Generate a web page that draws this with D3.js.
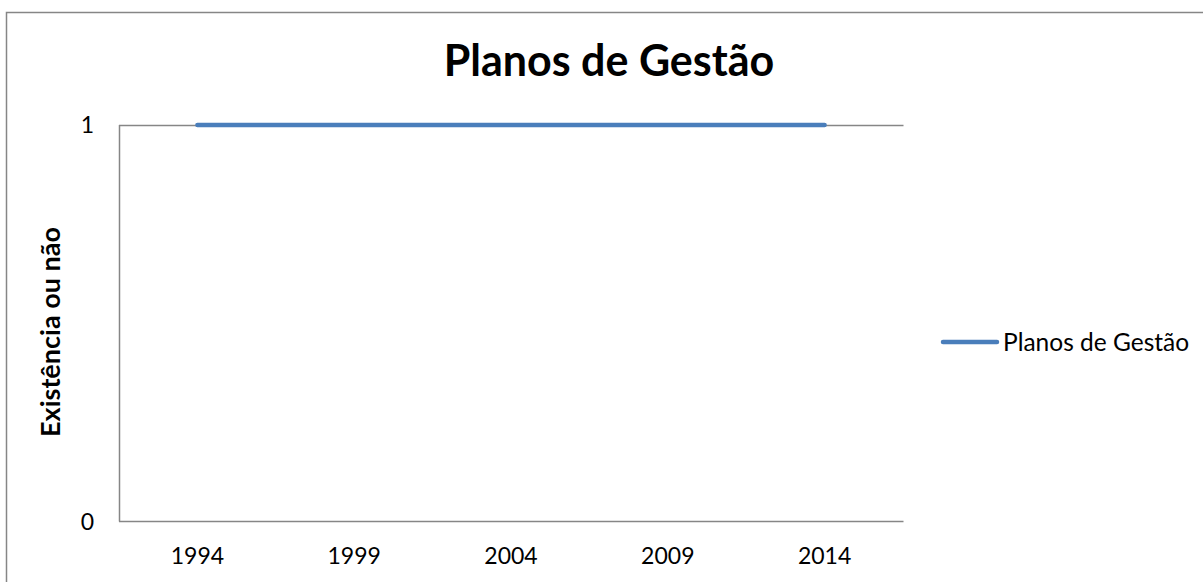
<!DOCTYPE html>
<html>
<head>
<meta charset="utf-8">
<script src="https://cdn.jsdelivr.net/npm/d3@7"></script>
<style>
  body { margin: 0; background: #fff; }
  text { font-family: Lato, "Open Sans", sans-serif; fill: #000; }
</style>
</head>
<body>
<div id="chart"></div>
<script>
let width = 1203;
let height = 582;
let margins = { top: 125, right: 300, bottom: 60.5, left: 119 };

// chart data
let years = ["1994", "1999", "2004", "2009", "2014"];
let planos = [1, 1, 1, 1, 1];
let yTicks = [0, 1];
let seriesName = "Planos de Gestão";
let titleText = "Planos de Gestão";
let yTitle = "Existência ou não";

let lineColor = "#4A7EBB";
let axisColor = "#868686";

var svg = d3.select("#chart")
	.append("svg")
	.attr("width", width)
	.attr("height", height);

// outer chart border (runs off the right and bottom edges)
svg.append("rect")
	.attr("x", 6.5)
	.attr("y", 12.5)
	.attr("width", 1210)
	.attr("height", 600)
	.attr("fill", "none")
	.attr("stroke", axisColor)
	.attr("stroke-width", 1.5);

var x = d3.scalePoint()
	.domain(years)
	.range([margins.left, width - margins.right])
	.padding(0.5);

var y = d3.scaleLinear()
	.domain([0, 1])
	.range([height - margins.bottom, margins.top]);

// gridline at 1
svg.selectAll(".grid")
	.data(yTicks.filter(function (d) { return d > 0; }))
	.enter()
	.append("line")
	.attr("class", "grid")
	.attr("x1", margins.left)
	.attr("x2", width - margins.right + 0.5)
	.attr("y1", function (d) { return Math.round(y(d)) + 0.5; })
	.attr("y2", function (d) { return Math.round(y(d)) + 0.5; })
	.attr("stroke", axisColor)
	.attr("stroke-width", 1.5);

// axes lines
svg.append("line")
	.attr("x1", margins.left + 0.5)
	.attr("x2", margins.left + 0.5)
	.attr("y1", y(1))
	.attr("y2", y(0))
	.attr("stroke", axisColor)
	.attr("stroke-width", 1.5);

svg.append("line")
	.attr("x1", margins.left)
	.attr("x2", width - margins.right + 0.5)
	.attr("y1", y(0))
	.attr("y2", y(0))
	.attr("stroke", axisColor)
	.attr("stroke-width", 1.5);

// y tick labels
svg.selectAll(".ytick")
	.data(yTicks)
	.enter()
	.append("text")
	.attr("class", "ytick")
	.attr("x", 94)
	.attr("y", function (d) { return y(d); })
	.attr("dy", "0.35em")
	.attr("text-anchor", "end")
	.style("font-size", "23px")
	.text(function (d) { return d; });

// x tick labels
svg.selectAll(".xtick")
	.data(years)
	.enter()
	.append("text")
	.attr("class", "xtick")
	.attr("x", function (d) { return x(d); })
	.attr("y", 564)
	.attr("text-anchor", "middle")
	.style("font-size", "23px")
	.text(function (d) { return d; });

// series line
var line = d3.line()
	.x(function (d, i) { return x(years[i]); })
	.y(function (d) { return y(d); });

svg.append("path")
	.datum(planos)
	.attr("d", line)
	.attr("fill", "none")
	.attr("stroke", lineColor)
	.attr("stroke-width", 4.5)
	.attr("stroke-linecap", "round");

// title
svg.append("text")
	.attr("x", 609)
	.attr("y", 76)
	.attr("text-anchor", "middle")
	.style("font-size", "43px")
	.style("font-weight", "bold")
	.text(titleText);

// y axis title
svg.append("text")
	.attr("transform", "translate(60," + 332 + ") rotate(-90)")
	.attr("text-anchor", "middle")
	.style("font-size", "27px")
	.style("font-weight", "bold")
	.text(yTitle);

// legend
var legend = svg.append("g").attr("transform", "translate(943,342)");
legend.append("line")
	.attr("x1", 0)
	.attr("x2", 54)
	.attr("stroke", lineColor)
	.attr("stroke-width", 4.5)
	.attr("stroke-linecap", "round");
legend.append("text")
	.attr("x", 60)
	.attr("y", 0)
	.attr("dy", "0.35em")
	.style("font-size", "24.5px")
	.text(seriesName);
</script>
</body>
</html>
